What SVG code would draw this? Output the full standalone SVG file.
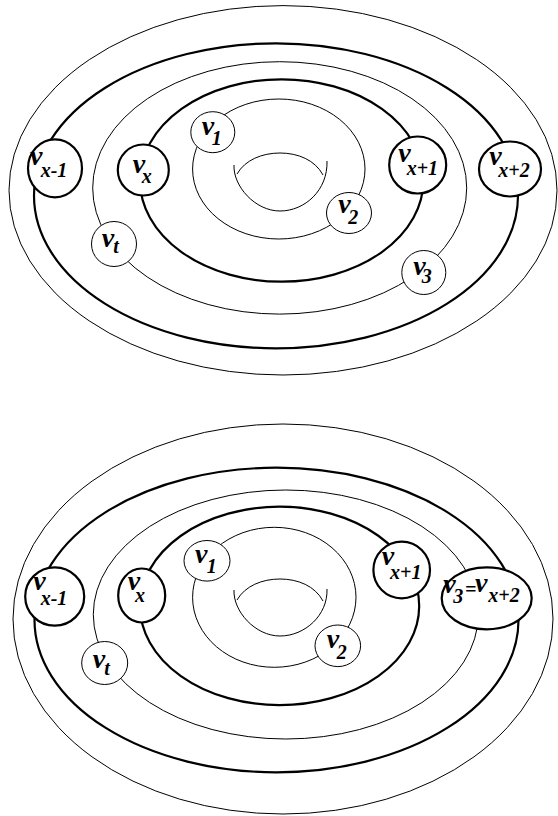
<svg xmlns="http://www.w3.org/2000/svg" width="558" height="816" viewBox="0 0 558 816">
<style>
.thin{fill:none;stroke:#000;stroke-width:1}
.bold{fill:none;stroke:#000;stroke-width:2.2}
.nthin{fill:#fff;stroke:#000;stroke-width:1}
.nbold{fill:#fff;stroke:#000;stroke-width:2.2}
text{font-family:"Liberation Serif","Times New Roman",serif;font-style:italic;font-weight:bold;fill:#000}
.m{font-size:28px}
.s{font-size:20px}
</style>
<rect width="558" height="816" fill="#fff"/>
<g id="connectors">
  <ellipse class="thin" cx="283" cy="190.3" rx="274" ry="184.7"/>
  <ellipse class="bold" cx="276" cy="195.8" rx="242" ry="152.5"/>
  <ellipse class="thin" cx="279.7" cy="187.9" rx="187" ry="126.2"/>
  <ellipse class="bold" cx="281.7" cy="180.5" rx="141.7" ry="101.2"/>
  <ellipse class="thin" cx="278.8" cy="169" rx="86.2" ry="70"/>
  <path class="thin" d="M234,165 C233,186 255,211 280,211 C305,211 328,190 327,161"/>
  <path class="thin" d="M237,174 C245,160 262,153 280,153 C298,153 315,160 323,175"/>

  <ellipse class="thin" cx="283" cy="619" rx="270" ry="195"/>
  <ellipse class="bold" cx="276.5" cy="620" rx="242" ry="152.3"/>
  <ellipse class="thin" cx="285.8" cy="614.5" rx="192.5" ry="124.5"/>
  <ellipse class="bold" cx="279.6" cy="605.9" rx="139.6" ry="99.2"/>
  <ellipse class="thin" cx="274.3" cy="597.3" rx="81.7" ry="70"/>
  <path class="thin" d="M234,590 C233,611 255,636 280,636 C305,636 328,615 327,589"/>
  <path class="thin" d="M237,600 C245,586 262,579 280,579 C298,579 315,586 323,601"/>
</g>

<g id="top-vx-1"><ellipse class="nbold" cx="55" cy="168.3" rx="27" ry="29"/>
<text><tspan class="m" x="30" y="165">v</tspan><tspan class="s" x="40.7" y="177.3">x-1</tspan></text></g>
<g id="top-vx"><ellipse class="nbold" cx="143.3" cy="170" rx="25.5" ry="25.5"/>
<text><tspan class="m" x="132.7" y="172.7">v</tspan><tspan class="s" x="141.7" y="182.7">x</tspan></text></g>
<g id="top-vt"><ellipse class="nthin" cx="114" cy="244" rx="22.5" ry="22.5"/>
<text><tspan class="m" x="101.7" y="246.7">v</tspan><tspan class="s" x="113.3" y="253.3">t</tspan></text></g>
<g id="top-v1"><ellipse class="nthin" cx="212.8" cy="132.2" rx="22" ry="20.5"/>
<text><tspan class="m" x="201.7" y="135">v</tspan><tspan class="s" x="211.7" y="145">1</tspan></text></g>
<g id="top-v2"><ellipse class="nthin" cx="349" cy="213" rx="22.5" ry="20.5"/>
<text><tspan class="m" x="338.3" y="213.3">v</tspan><tspan class="s" x="348.3" y="224">2</tspan></text></g>
<g id="top-vx+1"><ellipse class="nbold" cx="417.7" cy="165" rx="28.5" ry="28.5"/>
<text><tspan class="m" x="398.3" y="161.7">v</tspan><tspan class="s" x="406.7" y="175">x+1</tspan></text></g>
<g id="top-vx+2"><ellipse class="nbold" cx="510" cy="169" rx="31" ry="27.5"/>
<text><tspan class="m" x="489.3" y="165">v</tspan><tspan class="s" x="498.3" y="176.7">x+2</tspan></text></g>
<g id="top-v3"><ellipse class="nthin" cx="423.8" cy="272.5" rx="22" ry="22"/>
<text><tspan class="m" x="413.3" y="275">v</tspan><tspan class="s" x="421.7" y="282.7">3</tspan></text></g>

<g id="bot-vx-1"><ellipse class="nbold" cx="54.7" cy="596.5" rx="29.5" ry="29.2"/>
<text><tspan class="m" x="33.3" y="590">v</tspan><tspan class="s" x="40.7" y="605">x-1</tspan></text></g>
<g id="bot-vx"><ellipse class="nbold" cx="141.7" cy="595.5" rx="23.5" ry="27"/>
<text><tspan class="m" x="127.7" y="590">v</tspan><tspan class="s" x="135" y="601.7">x</tspan></text></g>
<g id="bot-vt"><ellipse class="nthin" cx="104.7" cy="663" rx="23" ry="21.5"/>
<text><tspan class="m" x="92.7" y="668.3">v</tspan><tspan class="s" x="104.3" y="675">t</tspan></text></g>
<g id="bot-v1"><ellipse class="nthin" cx="207" cy="560.8" rx="23" ry="20.3"/>
<text><tspan class="m" x="195" y="563.3">v</tspan><tspan class="s" x="206.7" y="573.3">1</tspan></text></g>
<g id="bot-v2"><ellipse class="nthin" cx="337.8" cy="645.8" rx="22.8" ry="20.8"/>
<text><tspan class="m" x="326.7" y="648.3">v</tspan><tspan class="s" x="336.7" y="659.3">2</tspan></text></g>
<g id="bot-vx+1"><ellipse class="nbold" cx="401.7" cy="570" rx="28.3" ry="28.3"/>
<text><tspan class="m" x="381.7" y="565">v</tspan><tspan class="s" x="390" y="579.3">x+1</tspan></text></g>
<g id="bot-v3-vx+2"><ellipse class="nbold" cx="486.7" cy="598.3" rx="45" ry="31"/>
<text><tspan class="m" x="443.3" y="593.3">v</tspan><tspan class="s" x="453.3" y="602.7">3</tspan><tspan class="s" x="465" y="596">=</tspan><tspan class="m" x="475" y="591.7">v</tspan><tspan class="s" x="488.3" y="601.7">x+2</tspan></text></g>
</svg>
